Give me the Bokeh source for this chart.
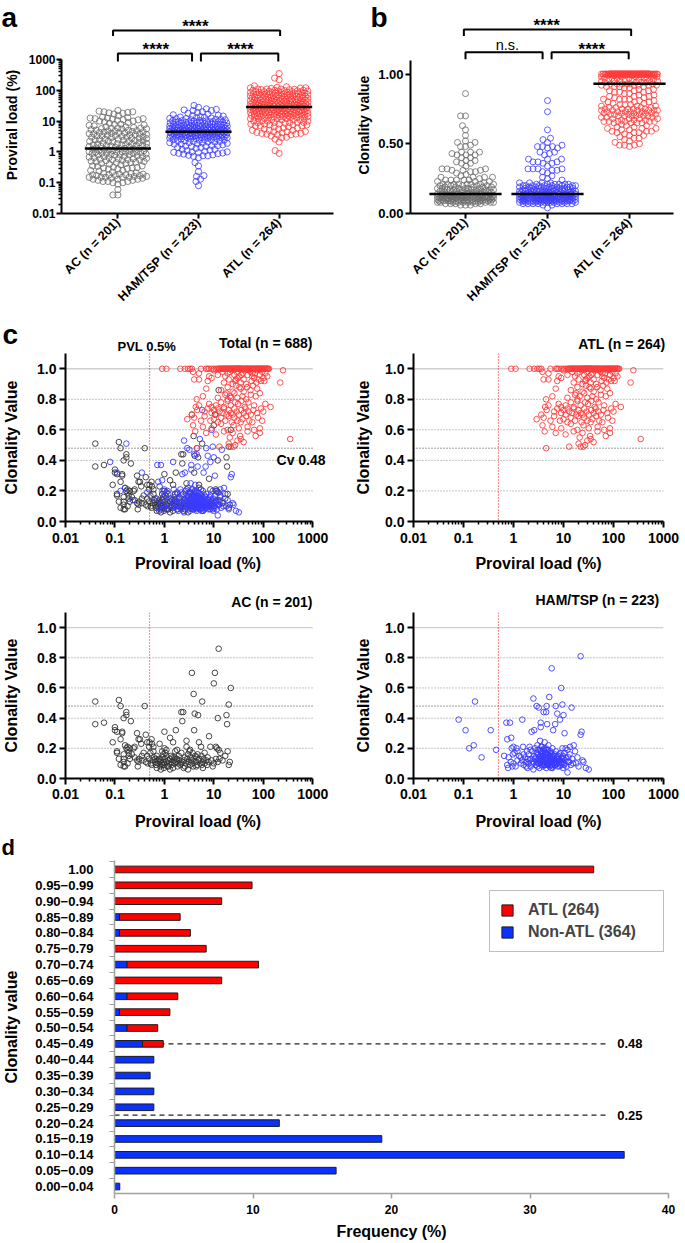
import numpy as np
from bokeh.plotting import figure
from bokeh.models import (Range1d, FixedTicker, CustomJSTickFormatter, NumeralTickFormatter,
                          Span, Legend, LegendItem, LinearScale)
from bokeh.layouts import column, row
from bokeh.embed import file_html
from bokeh.resources import INLINE
from bokeh.core.properties import value

FONT = "Liberation Sans"

# ------------------------------------------------------------------ data
groups = ["AC (n = 201)", "HAM/TSP (n = 223)", "ATL (n = 264)"]

# (proviral load %, clonality value) per patient
ac_points = [
    (0.04, 0.51), (0.04, 0.36), (0.06, 0.37), (0.09, 0.24),
    (0.10, 0.34), (0.10, 0.32), (0.11, 0.31), (0.11, 0.18), (0.11, 0.17), (0.12, 0.52), (0.13, 0.48),
    (0.13, 0.26), (0.14, 0.31), (0.14, 0.30), (0.15, 0.40), (0.15, 0.16), (0.15, 0.13), (0.15, 0.08),
    (0.16, 0.08), (0.16, 0.22), (0.17, 0.44), (0.17, 0.42), (0.17, 0.20), (0.18, 0.19), (0.18, 0.21),
    (0.19, 0.17), (0.19, 0.15),
    (0.20, 0.13), (0.20, 0.20), (0.21, 0.38), (0.22, 0.16), (0.24, 0.20), (0.25, 0.21), (0.28, 0.30),
    (0.28, 0.12), (0.29, 0.08), (0.30, 0.26), (0.30, 0.11), (0.31, 0.13), (0.32, 0.26), (0.34, 0.23),
    (0.35, 0.12), (0.38, 0.17), (0.40, 0.48), (0.42, 0.29), (0.42, 0.11), (0.45, 0.24), (0.45, 0.15),
    (0.46, 0.10), (0.48, 0.13), (0.49, 0.21),
    (0.50, 0.24), (0.52, 0.17), (0.53, 0.10), (0.55, 0.26), (0.56, 0.23), (0.58, 0.12), (0.60, 0.21),
    (0.60, 0.18), (0.62, 0.14), (0.65, 0.11), (0.68, 0.09), (0.70, 0.07), (0.70, 0.15), (0.72, 0.12),
    (0.75, 0.10), (0.78, 0.13), (0.80, 0.23), (0.82, 0.08), (0.85, 0.06), (0.85, 0.12), (0.88, 0.10),
    (0.90, 0.18), (0.92, 0.14), (0.95, 0.16), (0.97, 0.11), (0.98, 0.07),
    (1.00, 0.31), (1.00, 0.20), (1.00, 0.09), (1.02, 0.13), (1.05, 0.17), (1.10, 0.11), (1.10, 0.15),
    (1.15, 0.08), (1.20, 0.08), (1.20, 0.12), (1.25, 0.10), (1.30, 0.27), (1.30, 0.13), (1.35, 0.15),
    (1.40, 0.11), (1.40, 0.09), (1.45, 0.14), (1.50, 0.24), (1.50, 0.07), (1.55, 0.12), (1.60, 0.14),
    (1.60, 0.10), (1.65, 0.18), (1.70, 0.32), (1.70, 0.11), (1.75, 0.13), (1.80, 0.19), (1.85, 0.08),
    (1.90, 0.10), (1.95, 0.15),
    (2.0, 0.12), (2.1, 0.09), (2.2, 0.44), (2.2, 0.17), (2.3, 0.38), (2.3, 0.11), (2.4, 0.44),
    (2.45, 0.07), (2.5, 0.12), (2.6, 0.14), (2.7, 0.10), (2.8, 0.25), (2.8, 0.21), (2.9, 0.13),
    (3.0, 0.06), (3.0, 0.16), (3.1, 0.11), (3.2, 0.18), (3.3, 0.09), (3.4, 0.14), (3.5, 0.12),
    (3.6, 0.70), (3.6, 0.10), (3.7, 0.17), (3.8, 0.08), (3.9, 0.56), (3.9, 0.13),
    (4.0, 0.32), (4.1, 0.43), (4.2, 0.15), (4.3, 0.11), (4.5, 0.14), (4.6, 0.09), (4.7, 0.16),
    (4.8, 0.42), (4.9, 0.12), (5.0, 0.24), (5.1, 0.13), (5.3, 0.10), (5.5, 0.21), (5.6, 0.15),
    (5.8, 0.51), (5.9, 0.11), (6.0, 0.07), (6.2, 0.13), (6.5, 0.10), (7.0, 0.12), (7.3, 0.09), (7.8, 0.11),
    (8.0, 0.28), (8.5, 0.21), (9.0, 0.12), (9.5, 0.08), (10.0, 0.63), (10.5, 0.70), (11.0, 0.21),
    (11.5, 0.20), (12.0, 0.40), (12.0, 0.11), (12.5, 0.86), (13.0, 0.13), (18.0, 0.42), (18.5, 0.36),
    (19.0, 0.18), (20.0, 0.49), (22.0, 0.60),
    (12.5, 0.19), (11.0, 0.13), (10.0, 0.10), (13.5, 0.17), (15.0, 0.12), (17.0, 0.15), (21.0, 0.11),
    (20.0, 0.09), (6.5, 0.17), (7.5, 0.14), (5.7, 0.09), (4.4, 0.08), (3.3, 0.19), (2.6, 0.08),
    (2.2, 0.10), (1.8, 0.13), (1.3, 0.06), (1.1, 0.19), (0.9, 0.09), (0.8, 0.11), (0.65, 0.13),
    (0.55, 0.09), (0.35, 0.15), (0.25, 0.14), (0.15, 0.11), (0.12, 0.13), (0.13, 0.09), (0.18, 0.10),
]

ham_points = [
    (0.08, 0.39), (0.11, 0.32), (0.13, 0.20), (0.16, 0.22), (0.17, 0.51), (0.23, 0.14), (0.35, 0.32),
    (0.45, 0.19), (0.65, 0.15), (0.72, 0.37), (0.75, 0.26), (0.75, 0.09), (0.78, 0.07), (0.80, 0.14),
    (0.85, 0.37), (0.88, 0.11), (0.90, 0.27), (0.92, 0.20), (0.95, 0.08), (0.97, 0.16),
    (1.0, 0.21), (1.0, 0.10), (1.05, 0.17), (1.1, 0.08), (1.15, 0.20), (1.2, 0.12), (1.3, 0.15),
    (1.4, 0.10), (1.5, 0.39), (1.5, 0.12), (1.55, 0.21), (1.6, 0.09), (1.7, 0.14), (1.8, 0.11),
    (1.85, 0.18), (1.9, 0.07), (1.95, 0.13),
    (2.0, 0.16), (2.0, 0.10), (2.1, 0.21), (2.2, 0.08), (2.3, 0.31), (2.3, 0.13), (2.4, 0.18),
    (2.5, 0.53), (2.5, 0.11), (2.5, 0.06), (2.6, 0.32), (2.6, 0.15), (2.7, 0.20), (2.8, 0.09),
    (2.8, 0.14), (2.9, 0.48), (2.9, 0.17), (3.0, 0.12), (3.0, 0.22), (3.1, 0.16), (3.1, 0.10),
    (3.2, 0.47), (3.2, 0.13), (3.3, 0.19), (3.3, 0.07), (3.4, 0.15), (3.4, 0.25), (3.5, 0.37),
    (3.5, 0.34), (3.5, 0.11), (3.6, 0.17), (3.6, 0.14), (3.7, 0.21), (3.7, 0.09), (3.8, 0.16),
    (3.8, 0.12), (3.9, 0.18), (3.9, 0.08),
    (4.0, 0.44), (4.0, 0.15), (4.0, 0.11), (4.1, 0.20), (4.2, 0.13), (4.2, 0.24), (4.3, 0.17),
    (4.3, 0.09), (4.4, 0.12), (4.5, 0.44), (4.5, 0.14), (4.5, 0.07), (4.6, 0.48), (4.6, 0.19),
    (4.7, 0.36), (4.7, 0.10), (4.8, 0.16), (4.9, 0.12), (5.0, 0.22), (5.0, 0.09), (5.0, 0.13),
    (5.1, 0.15), (5.2, 0.54), (5.2, 0.11), (5.3, 0.08), (5.4, 0.18), (5.5, 0.10), (5.5, 0.14),
    (5.6, 0.07), (5.7, 0.12), (5.8, 0.73), (5.8, 0.09), (5.9, 0.16), (6.0, 0.11), (6.0, 0.20),
    (6.1, 0.08), (6.2, 0.32), (6.2, 0.13), (6.4, 0.10), (6.5, 0.15), (6.6, 0.09), (6.8, 0.36),
    (6.8, 0.12), (7.0, 0.48), (7.0, 0.18), (7.2, 0.11), (7.5, 0.43), (7.5, 0.14), (7.7, 0.08), (7.9, 0.13),
    (8.0, 0.10), (8.2, 0.16), (8.5, 0.39), (8.5, 0.12), (8.8, 0.09), (9.0, 0.60), (9.0, 0.14),
    (9.2, 0.11), (9.5, 0.49), (9.5, 0.20), (9.8, 0.07), (10.0, 0.42), (10.0, 0.13), (10.2, 0.10),
    (10.5, 0.30), (10.5, 0.17), (11.0, 0.12), (11.0, 0.20), (11.5, 0.08), (12.0, 0.04), (12.0, 0.19),
    (12.5, 0.14), (13.0, 0.11), (13.5, 0.21), (14.0, 0.09), (14.5, 0.47), (15.0, 0.13),
    (16.0, 0.22), (17.0, 0.18), (18.0, 0.10), (19.0, 0.14), (20.0, 0.08), (22.0, 0.81), (22.0, 0.29),
    (23.0, 0.31), (24.0, 0.12), (25.0, 0.11), (28.0, 0.07), (32.0, 0.06),
    (1.2, 0.18), (1.4, 0.14), (1.6, 0.16), (1.8, 0.08), (2.1, 0.12), (2.2, 0.19), (2.4, 0.10),
    (2.7, 0.13), (2.9, 0.11), (3.0, 0.08), (3.1, 0.19), (3.2, 0.10), (3.3, 0.14), (3.4, 0.12),
    (3.5, 0.18), (3.6, 0.21), (3.7, 0.13), (3.8, 0.10), (3.9, 0.15), (4.0, 0.19), (4.1, 0.09),
    (4.2, 0.16), (4.3, 0.12), (4.4, 0.20), (4.4, 0.10),
    (4.5, 0.17), (4.6, 0.11), (4.7, 0.13), (4.8, 0.09), (4.9, 0.19), (5.0, 0.16), (5.1, 0.10),
    (5.2, 0.14), (5.3, 0.12), (5.4, 0.09), (5.5, 0.17), (5.6, 0.11), (5.7, 0.15), (5.9, 0.13),
    (6.0, 0.07), (6.1, 0.14), (6.3, 0.10), (6.5, 0.12), (6.7, 0.16), (6.9, 0.09), (7.1, 0.13),
    (7.4, 0.10), (7.8, 0.15), (8.1, 0.12), (8.4, 0.08), (8.7, 0.17), (9.1, 0.10), (9.4, 0.13),
    (9.7, 0.15), (10.3, 0.09), (11.2, 0.14), (12.2, 0.11), (13.2, 0.16), (15.5, 0.10),
]

atl_points = [
    (0.9, 1.0), (1.1, 1.0), (2.1, 1.0), (2.6, 1.0), (3.0, 1.0), (3.3, 1.0), (3.6, 1.0), (5.5, 1.0),
    (7.0, 1.0), (7.5, 1.0), (8.0, 1.0), (9.0, 1.0), (10, 1.0), (11, 1.0), (12, 1.0), (13, 1.0),
    (13.5, 1.0), (14, 1.0), (14.5, 1.0), (15, 1.0), (16, 1.0), (17, 1.0), (18, 1.0), (19, 1.0),
    (20, 1.0), (21, 1.0), (22, 1.0), (23, 1.0), (24, 1.0), (25, 1.0), (26, 1.0), (27, 1.0), (28, 1.0),
    (29, 1.0), (30, 1.0), (31, 1.0), (32, 1.0), (33, 1.0), (34, 1.0), (35, 1.0), (36, 1.0), (38, 1.0),
    (40, 1.0), (42, 1.0), (44, 1.0), (46, 1.0), (48, 1.0), (50, 1.0), (52, 1.0), (55, 1.0), (58, 1.0),
    (60, 1.0), (63, 1.0), (66, 1.0), (70, 1.0), (73, 1.0), (76, 1.0), (80, 1.0), (84, 1.0), (88, 1.0),
    (92, 1.0), (96, 1.0), (100, 1.0), (105, 1.0), (110, 1.0), (115, 1.0), (120, 1.0), (125, 1.0),
    (130, 1.0), (12.5, 1.0), (15.5, 1.0), (17.5, 1.0), (19.5, 1.0), (22.5, 1.0), (24.5, 1.0),
    (26.5, 1.0), (28.5, 1.0), (31.5, 1.0), (34.5, 1.0), (37, 1.0), (41, 1.0), (45, 1.0), (49, 1.0),
    (54, 1.0), (62, 1.0), (68, 1.0), (75, 1.0), (82, 1.0), (90, 1.0), (98, 1.0), (108, 1.0),
    (118, 1.0), (16.5, 1.0), (20.5, 1.0), (29.5, 1.0),
    (250, 0.99), (3.8, 0.98), (5, 0.97), (8, 0.95), (10, 0.99), (12, 0.96), (15, 0.98), (17, 0.95),
    (19, 0.97), (23, 0.99), (26, 0.96), (29, 0.98), (33, 0.95), (38, 0.97), (43, 0.99), (48, 0.96),
    (55, 0.98), (60, 0.95), (68, 0.97), (75, 0.99), (85, 0.96), (95, 0.98), (110, 0.97), (120, 0.95),
    (21, 0.98), (36, 0.96), (52, 0.99), (60, 0.97),
    (220, 0.91), (4.0, 0.93), (5.0, 0.93), (7.5, 0.92), (9, 0.94), (16, 0.91), (20, 0.93), (24, 0.90),
    (27, 0.92), (30, 0.94), (35, 0.91), (40, 0.93), (45, 0.90), (58, 0.92), (65, 0.94), (72, 0.91),
    (80, 0.93), (90, 0.92), (100, 0.94), (105, 0.92), (28, 0.93),
    (7, 0.87), (14, 0.86), (19, 0.88), (24, 0.85), (28, 0.89), (35, 0.87), (40, 0.85), (47, 0.88),
    (55, 0.86), (62, 0.89), (75, 0.87), (33, 0.88),
    (4.5, 0.80), (6, 0.82), (12, 0.81), (17, 0.83), (19, 0.80), (21, 0.82), (26, 0.84), (30, 0.81),
    (38, 0.82), (45, 0.80), (56, 0.83), (70, 0.82), (85, 0.84), (18, 0.84),
    (5, 0.76), (4.3, 0.75), (8, 0.77), (9, 0.75), (11, 0.76), (14, 0.78), (16, 0.75), (19, 0.79),
    (22, 0.76), (27, 0.78), (31, 0.77), (36, 0.79), (42, 0.75), (50, 0.78), (65, 0.76), (110, 0.77),
    (140, 0.75),
    (3.6, 0.70), (4.6, 0.73), (6.5, 0.72), (7.5, 0.74), (9, 0.71), (10, 0.73), (11, 0.70), (12, 0.74),
    (13, 0.72), (15, 0.71), (16, 0.74), (18, 0.70), (20, 0.73), (22, 0.71), (24, 0.70), (26, 0.74),
    (29, 0.72), (32, 0.70), (36, 0.73), (40, 0.71), (44, 0.74), (50, 0.72), (56, 0.70), (63, 0.73),
    (75, 0.71), (90, 0.74), (100, 0.72),
    (2.9, 0.67), (4.0, 0.68), (5.5, 0.66), (6.5, 0.69), (8.5, 0.66), (10, 0.67), (12, 0.65), (14, 0.68),
    (17, 0.66), (20, 0.69), (23, 0.65), (26, 0.68), (30, 0.66), (35, 0.65), (38, 0.67), (45, 0.69),
    (52, 0.66), (60, 0.65), (78, 0.68), (95, 0.66),
    (3.8, 0.63), (6, 0.62), (9, 0.61), (14, 0.64), (19, 0.60), (25, 0.63), (32, 0.61), (48, 0.62),
    (65, 0.60), (85, 0.61),
    (4.2, 0.59), (7, 0.58), (11, 0.57), (16, 0.59), (21, 0.55), (24, 0.58), (34, 0.56), (48, 0.59),
    (70, 0.56), (85, 0.58),
    (350, 0.54), (20, 0.51), (27, 0.50), (30, 0.53), (35, 0.54), (40, 0.52),
    (4.5, 0.48), (13, 0.49), (22, 0.49), (25, 0.49),
]

sig_a = ["****", "****", "****"]   # AC vs HAM, HAM vs ATL, AC vs ATL
sig_b = ["n.s.", "****", "****"]

pvl_cut = 0.5
cv_cut = 0.48

panel_titles = ["Total (n = 688)", "ATL (n = 264)", "AC (n = 201)", "HAM/TSP (n = 223)"]

cv_bins = ["0.00−0.04", "0.05−0.09", "0.10−0.14", "0.15−0.19", "0.20−0.24", "0.25−0.29",
           "0.30−0.34", "0.35−0.39", "0.40−0.44", "0.45−0.49", "0.50−0.54", "0.55−0.59",
           "0.60−0.64", "0.65−0.69", "0.70−0.74", "0.75−0.79", "0.80−0.84", "0.85−0.89",
           "0.90−0.94", "0.95−0.99", "1.00"]
non_atl_pct = [0.38, 16.0, 36.8, 19.3, 11.9, 2.84, 2.84, 2.57, 2.84, 2.02, 0.91, 0.36,
               0.91, 0.0, 0.91, 0.0, 0.36, 0.36, 0.0, 0.0, 0.0]
atl_pct = [0.0, 0.0, 0.0, 0.0, 0.0, 0.0, 0.0, 0.0, 0.0, 1.50, 2.21, 3.64,
           3.66, 7.74, 9.49, 6.62, 5.12, 4.38, 7.74, 9.93, 34.6]

dec_ticks = [0.01, 0.1, 1, 10, 100, 1000]
minor_log = [k * 10.0 ** e for e in range(-2, 3) for k in range(2, 10)]
cv_grid = [0.2, 0.4, 0.6, 0.8]

GRAY_PT, BLUE_PT, RED_PT = "#6a6a6a", "#3b3bff", "#ff3b3b"
BLACK_PT = "#333333"
BAR_BLUE, BAR_RED = "#0a32ff", "#ff0000"


# ------------------------------------------------------------------ helpers
def swarm(ypx, dmin, max_half, step=0.5):
    ypx = np.asarray(ypx, float)
    order = np.argsort(ypx, kind="stable")
    cands = np.arange(-max_half, max_half + step / 2, step)
    cands = cands[np.argsort(np.abs(cands), kind="stable")]
    px, py = [], []
    off = np.zeros(len(ypx))
    for i in order:
        y = ypx[i]
        o = 0.0
        if px:
            PX = np.array(px)
            PY = np.array(py)
            near = np.abs(PY - y) < dmin
            if near.any():
                nx, ny = PX[near], PY[near]
                d2 = (cands[:, None] - nx[None, :]) ** 2 + (y - ny[None, :]) ** 2
                mind = d2.min(axis=1)
                ok = np.nonzero(mind >= dmin ** 2)[0]
                o = cands[ok[0]] if len(ok) else cands[np.argmax(mind)]
        off[i] = o
        px.append(o)
        py.append(y)
    return off


def make_fig(w, h, L, R, T, B, **kw):
    p = figure(width=w, height=h, min_border_left=L, min_border_right=R,
               min_border_top=T, min_border_bottom=B, output_backend="svg",
               toolbar_location=None, **kw)
    p.title.visible = False
    p.outline_line_color = None
    p.grid.visible = False
    return p


def strip(w, h, xr, yr):
    return make_fig(w, h, 0, 0, 0, 0, x_range=xr, y_range=yr,
                    x_axis_location=None, y_axis_location=None)


def style_axis(ax, size, label_size, color="black", width=2, tick_out=5, minor_out=3,
               label_standoff=3, axis_standoff=5):
    ax.axis_line_width = width
    ax.axis_line_color = color
    ax.major_tick_line_width = width
    ax.major_tick_line_color = color
    ax.minor_tick_line_width = max(1, width - 0.5)
    ax.minor_tick_line_color = color
    ax.major_tick_out = tick_out
    ax.major_tick_in = 0
    ax.minor_tick_out = minor_out
    ax.minor_tick_in = 0
    ax.major_label_text_font = FONT
    ax.major_label_text_font_style = "bold"
    ax.major_label_text_font_size = size
    ax.major_label_text_color = "black"
    ax.major_label_standoff = label_standoff
    ax.axis_label_text_font = FONT
    ax.axis_label_text_font_style = "bold"
    ax.axis_label_text_font_size = label_size
    ax.axis_label_text_color = "black"
    ax.axis_label_standoff = axis_standoff


def txt(p, x, y, t, size, bold=True, align="left", **kw):
    p.text(x=[x], y=[y], text=[t], text_font=value(FONT),
           text_font_style="bold" if bold else "normal", text_font_size=size,
           text_align=align, text_baseline="middle", text_color="black", **kw)


def bracket(p, x0, x1, yh, yt, **kw):
    p.line([x0, x0, x1, x1], [yt, yh, yh, yt], line_color="black", line_width=2, **kw)


def sig(p, x, y, t, **kw):
    # y = wanted visual centre of the marks (page px)
    if t.startswith("*"):
        txt(p, x, y + 3.7, t, "17px", True, "center", **kw)
    else:
        txt(p, x, y - 1.3, t, "14.5px", False, "center", **kw)


pvl = [np.array([q[0] for q in pts]) for pts in (ac_points, ham_points, atl_points)]
cv = [np.array([q[1] for q in pts]) for pts in (ac_points, ham_points, atl_points)]
swarm_cols = [GRAY_PT, BLUE_PT, RED_PT]

# ------------------------------------------------------------------ row 1 : panels a, b
TOP1 = 36                     # strip height (page y 0..36)
ROW1 = 317                    # page y where row 1 ends
A_W, A_L, A_R = 345, 58, 12
B_W, B_L, B_R = 340, 65, 12
A_H = B_H = ROW1 - TOP1
A_DEC, A_CAT, B_UNIT, B_CAT = 30.8, 81.5, 141.0, 82.0
A_BOT, B_BOT = 213, 215       # page y of 0.01 / 0.00
a_fh, b_fh = A_BOT - TOP1, B_BOT - TOP1
A_B, B_B = A_H - a_fh, B_H - b_fh
a_fw, b_fw = A_W - A_L - A_R, B_W - B_L - B_R
a_x0 = -57 / A_CAT
b_x0 = -55 / B_CAT

sa = strip(A_W, TOP1, Range1d(a_x0 - A_L / A_CAT, a_x0 + (A_W - A_L) / A_CAT), Range1d(TOP1, 0))
sb = strip(B_W, TOP1, Range1d(b_x0 - B_L / B_CAT, b_x0 + (B_W - B_L) / B_CAT), Range1d(TOP1, 0))

fa = make_fig(A_W, A_H, A_L, A_R, 0, A_B,
              x_range=Range1d(a_x0, a_x0 + a_fw / A_CAT),
              y_range=Range1d(0.01, 10 ** (3 + (59 - TOP1) / A_DEC)), y_axis_type="log")
fa.extra_y_ranges = {"py": Range1d(A_BOT, TOP1)}
fa.extra_y_scales = {"py": LinearScale()}
fb = make_fig(B_W, B_H, B_L, B_R, 0, B_B,
              x_range=Range1d(b_x0, b_x0 + b_fw / B_CAT),
              y_range=Range1d(0, b_fh / B_UNIT))
fb.extra_y_ranges = {"py": Range1d(B_BOT, TOP1)}
fb.extra_y_scales = {"py": LinearScale()}

for i in range(3):
    off = swarm(np.log10(pvl[i]) * A_DEC, 4.8, 29)
    fa.scatter(i + off / A_CAT, pvl[i], marker="circle", size=6.2, fill_color=None,
               line_color=swarm_cols[i], line_width=0.8)
    med = float(np.median(pvl[i]))
    fa.segment(x0=[i - 0.41], y0=[med], x1=[i + 0.41], y1=[med], line_color="black", line_width=2.5)

    off = swarm(cv[i] * B_UNIT, 5.0, 28)
    fb.scatter(i + off / B_CAT, cv[i], marker="circle", size=6.0, fill_color=None,
               line_color=swarm_cols[i], line_width=0.8)
    med = float(np.median(cv[i]))
    fb.segment(x0=[i - 0.44], y0=[med], x1=[i + 0.44], y1=[med], line_color="black", line_width=2.5)

# panel letters, brackets and significance marks (page pixel y)
txt(sa, a_x0 + (1 - A_L) / A_CAT, 16.5, "a", "28px")
bracket(sa, -0.03, 2.02, 30, 36)
sig(sa, 0.98, 22.4, sig_a[2])
bracket(fa, 0.0, 0.92, 53, 61, y_range_name="py")
bracket(fa, 1.03, 1.99, 53, 61, y_range_name="py")
sig(fa, 0.47, 45.0, sig_a[0], y_range_name="py")
sig(fa, 1.52, 45.0, sig_a[1], y_range_name="py")

txt(sb, b_x0 + (370 - B_L - A_W) / B_CAT, 16.5, "b", "28px")
bracket(sb, -0.02, 2.02, 29, 36)
sig(sb, 0.99, 21.7, sig_b[2])
bracket(fb, 0.0, 0.94, 52, 59, y_range_name="py")
bracket(fb, 1.05, 1.99, 52, 59, y_range_name="py")
sig(fb, 0.51, 46.0, sig_b[0], y_range_name="py")
sig(fb, 1.54, 45.0, sig_b[1], y_range_name="py")

style_axis(fa.xaxis, "12.5px", "14px", label_standoff=2)
style_axis(fa.yaxis, "12px", "14px", label_standoff=1, axis_standoff=6)
fa.xaxis.ticker = FixedTicker(ticks=[0, 1, 2])
fa.xaxis.major_label_overrides = {0: groups[0], 1: groups[1], 2: groups[2]}
fa.xaxis.major_label_orientation = np.pi / 4
fa.yaxis.ticker = FixedTicker(ticks=dec_ticks, minor_ticks=minor_log)
fa.yaxis.formatter = CustomJSTickFormatter(code="return String(tick)")
fa.yaxis.bounds = (0.01, 1000)
fa.yaxis.axis_label = "Proviral load (%)"

style_axis(fb.xaxis, "12.5px", "14px", label_standoff=2)
style_axis(fb.yaxis, "13px", "14px", label_standoff=2, axis_standoff=3)
fb.xaxis.ticker = FixedTicker(ticks=[0, 1, 2])
fb.xaxis.major_label_overrides = {0: groups[0], 1: groups[1], 2: groups[2]}
fb.xaxis.major_label_orientation = np.pi / 4
fb.yaxis.ticker = FixedTicker(ticks=[0, 0.5, 1.0])
fb.yaxis.formatter = NumeralTickFormatter(format="0.00")
fb.yaxis.bounds = (0, 1.1)
fb.yaxis.axis_label = "Clonality value"


# ------------------------------------------------------------------ rows 2, 3 : panel c
C_DEC = 50.2


def c_panel(W, H, L, R, B, series, ext, x_standoff, y_standoff, tick_standoff):
    fw = W - L - R
    x_end = 10 ** (-2 + fw / C_DEC) if ext else 1000
    p = make_fig(W, H, L, R, 0, B, x_range=Range1d(0.01, x_end), y_range=Range1d(0, 1.1),
                 x_axis_type="log")
    p.segment(x0=[0.01] * len(cv_grid), y0=cv_grid, x1=[1000] * len(cv_grid), y1=cv_grid,
              line_color="#8a8a8a", line_dash="1 2", line_width=1, level="underlay")
    p.segment(x0=[0.01], y0=[1.0], x1=[1000], y1=[1.0], line_color="#cfcfcf", line_width=1.3,
              level="underlay")
    p.segment(x0=[0.01], y0=[cv_cut], x1=[1000], y1=[cv_cut], line_color="#3a3a3a",
              line_dash="1 2", line_width=1, level="underlay")
    p.add_layout(Span(location=pvl_cut, dimension="height", line_color="#ff2e2e",
                      line_dash="1 2", line_width=1.2, level="underlay"))
    for k, col in series:
        p.scatter(pvl[k], cv[k], marker="circle", size=5.6, fill_color=None,
                  line_color=col, line_width=0.9)
    style_axis(p.xaxis, "14px", "16px", tick_out=6, minor_out=3, label_standoff=tick_standoff,
               axis_standoff=x_standoff)
    style_axis(p.yaxis, "14px", "16px", tick_out=6, minor_out=3, label_standoff=3,
               axis_standoff=y_standoff)
    p.xaxis.ticker = FixedTicker(ticks=dec_ticks, minor_ticks=minor_log)
    p.xaxis.formatter = CustomJSTickFormatter(code="return String(tick)")
    p.xaxis.bounds = (0.01, 1000)
    p.yaxis.ticker = FixedTicker(ticks=[0, 0.2, 0.4, 0.6, 0.8, 1.0])
    p.yaxis.formatter = NumeralTickFormatter(format="0.0")
    p.xaxis.axis_label = "Proviral load (%)"
    p.yaxis.axis_label = "Clonality Value"
    return p


# row 2: strip ROW1..353 ; frames 353..521 ; row ends 575
R2 = ROW1
S2 = 353 - R2
c1 = c_panel(345, 222, 61, 15, 54, [(0, BLACK_PT), (1, BLUE_PT), (2, RED_PT)], True, 9, 14, 5)
c2 = c_panel(340, 222, 68, 22, 54, [(2, RED_PT)], False, 9, 10, 5)
c1.extra_x_ranges = {"px": Range1d(61, 330)}
c1.extra_x_scales = {"px": LinearScale()}
c1.extra_y_ranges = {"py": Range1d(521, 353)}
c1.extra_y_scales = {"py": LinearScale()}
txt(c1, 325, 459, "Cv 0.48", "14px", True, "right", x_range_name="px", y_range_name="py")

s1 = strip(345, S2, Range1d(0, 345), Range1d(R2 + S2, R2))
s2 = strip(340, S2, Range1d(345, 685), Range1d(R2 + S2, R2))
txt(s1, 2, 333.5, "c", "28px")
txt(s1, 312, 342, panel_titles[0], "14px", True, "right")
txt(s1, 61 + (np.log10(pvl_cut) + 2) * C_DEC, 345.5, "PVL 0.5%", "13px", True, "center")
txt(s2, 665, 343, panel_titles[1], "14px", True, "right")

# row 3: page y 575..832 ; strip 575..612 ; frames 612..780
R3, S3 = 575, 37
c3 = c_panel(345, 220, 61, 15, 52, [(0, BLACK_PT)], True, 11, 14, 4)
c4 = c_panel(340, 220, 68, 22, 52, [(1, BLUE_PT)], False, 11, 10, 4)
s3 = strip(345, S3, Range1d(0, 345), Range1d(R3 + S3, R3))
s4 = strip(340, S3, Range1d(345, 685), Range1d(R3 + S3, R3))
txt(s3, 312, 601, panel_titles[2], "14px", True, "right")
txt(s4, 659, 599, panel_titles[3], "14px", True, "right")

# ------------------------------------------------------------------ row 4 : panel d
R4, S4 = 832, 28
D_W, D_H, D_L, D_R, D_B = 685, 382, 109, 17, 48
d_fh = D_H - D_B
sd = strip(D_W, S4, Range1d(0, D_W), Range1d(R4 + S4, R4))
txt(sd, 1, 847, "d", "22px")

fd = make_fig(D_W, D_H, D_L, D_R, 0, D_B, x_range=Range1d(0, 40),
              y_range=Range1d(-7 / 15.9, -7 / 15.9 + d_fh / 15.9))
ys = np.arange(len(cv_bins))
non = np.array(non_atl_pct)
atl = np.array(atl_pct)
y48 = cv_bins.index("0.45−0.49")
y25 = cv_bins.index("0.25−0.29") - 0.5
for yy, lab in ((y48, "0.48"), (y25, "0.25")):
    fd.line([0, 35.5], [yy, yy], line_color="#222222", line_dash="5 4", line_width=1.2)
    txt(fd, 36.3, yy, lab, "13px", True, "left")
mb = non > 0
r_blue = fd.hbar(y=ys[mb], left=0, right=non[mb], height=0.42, fill_color=BAR_BLUE,
                 line_color="#1e1e1e", line_width=1)
ma = atl > 0
r_red = fd.hbar(y=ys[ma], left=non[ma], right=(non + atl)[ma], height=0.42, fill_color=BAR_RED,
                line_color="#1e1e1e", line_width=1)
style_axis(fd.xaxis, "12px", "16px", color="#a0a0a0", width=1.5, tick_out=5, label_standoff=6,
           axis_standoff=6)
style_axis(fd.yaxis, "13px", "16px", color="#a0a0a0", width=1.5, tick_out=0, minor_out=5,
           label_standoff=16, axis_standoff=12)
fd.xaxis.ticker = FixedTicker(ticks=[0, 10, 20, 30, 40])
fd.xaxis.formatter = NumeralTickFormatter(format="0")
fd.xaxis.axis_label = "Frequency (%)"
fd.yaxis.ticker = FixedTicker(ticks=list(range(len(cv_bins))),
                              minor_ticks=[i - 0.5 for i in range(len(cv_bins) + 1)])
fd.yaxis.major_label_overrides = {i: lab for i, lab in enumerate(cv_bins)}
fd.yaxis.axis_label = "Clonality value"
leg = Legend(items=[LegendItem(label="ATL (264)", renderers=[r_red]),
                    LegendItem(label="Non-ATL (364)", renderers=[r_blue])],
             location=(375, 241))
leg.label_text_font = FONT
leg.label_text_font_style = "bold"
leg.label_text_font_size = "16px"
leg.glyph_width = 14
leg.glyph_height = 14
leg.label_standoff = 14
leg.label_height = 17
leg.label_width = 125
leg.padding = 10
leg.spacing = 4
leg.margin = 0
leg.border_line_color = "#808080"
leg.border_line_width = 1
leg.background_fill_alpha = 1
fd.add_layout(leg, "center")

layout = column(row(sa, sb), row(fa, fb), row(s1, s2), row(c1, c2), row(s3, s4), row(c3, c4),
                row(sd), row(fd))
open("out.html", "w").write(file_html(layout, INLINE))
